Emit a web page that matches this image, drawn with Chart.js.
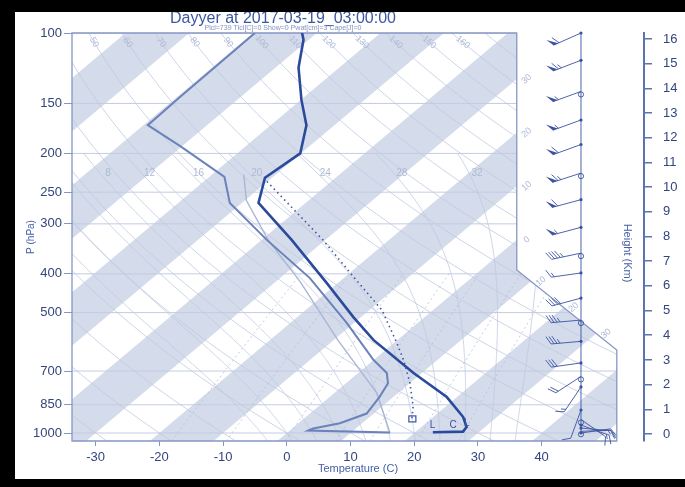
<!DOCTYPE html>
<html>
<head>
<meta charset="utf-8">
<script src="https://cdn.jsdelivr.net/npm/chart.js@4.4.1/dist/chart.umd.min.js"></script>
<style>
  html, body { margin: 0; padding: 0; background: #000; }
  body { width: 685px; height: 487px; position: relative; overflow: hidden; }
  #wrap { position: absolute; left: 15px; top: 12px; width: 670px; height: 467px; background: #fff; }
</style>
</head>
<body>
<div id="wrap"><canvas id="skewt" width="670" height="467"></canvas></div>
<script>
// skew-T geometry
const SKEW = 74.7;            // degC shift per decade of pressure
const P_REF = 1000;
const P_TOP = 100, P_BOT = 1047;
const X_MIN = -33.71, X_MAX = 56.07;
const H_MIN = -0.2835, H_MAX = 16.24;
const FRAME_X = [36.1, 51.8];   // right edge of the diagram, upper and lower part
const FRAME_P = [391, 620];     // where the cut corner starts / ends

// axis ticks
const P_TICKS = [100, 150, 200, 250, 300, 400, 500, 700, 850, 1000];
const T_TICKS = [-30, -20, -10, 0, 10, 20, 30, 40];
const H_TICKS = [0, 1, 2, 3, 4, 5, 6, 7, 8, 9, 10, 11, 12, 13, 14, 15, 16];

// sounding (hPa, degC)
const presT = [100, 104, 122, 147, 170, 200, 230, 266, 329, 422, 513, 585, 708, 813, 912, 966, 992, 996];
const tempC = [-72.3, -70.8, -66.4, -59.9, -54.4, -50.1, -51.1, -47.4, -35.3, -21.7, -11.2, -3.8, 8.7, 18.4, 24.7, 27.1, 27.4, 22.8];

const presD = [100, 145, 170, 192, 229, 266, 329, 410, 531, 657, 708, 751, 811, 894, 945, 974, 986, 997];
const dewC = [-79.7, -79.5, -79.3, -70.2, -57.6, -51.9, -39.2, -25.3, -11.1, 0.0, 4.5, 6.6, 7.8, 8.9, 6.5, 3.3, 2.9, 16.1];

const presW = [226, 262, 329, 419, 585, 795, 1000];
const wetC = [-55.0, -49.8, -39.0, -26.1, -9.4, 6.7, 16.2];

const presParcel = [235, 329, 415, 493, 596, 657, 750, 859, 922];
const parcelC = [-50.1, -30.4, -17.6, -8.0, 0.5, 4.7, 10.0, 14.9, 17.0];

// winds: pressure, direction (deg), speed (kt)
const windP = [100, 117, 140, 165, 190, 224, 261, 306, 355, 398, 460, 522, 590, 668, 722, 767, 876, 925, 955, 972, 990, 1000];
const windDir = [246, 249, 250, 250, 250, 252, 255, 255, 258, 262, 255, 265, 265, 262, 237, 214, 200, 125, 110, 95, 88, 82];
const windSpd = [60, 65, 55, 55, 60, 65, 60, 55, 45, 15, 40, 35, 35, 30, 20, 15, 10, 10, 15, 10, 15, 10];
const STAFF_X = 46.18;

// decoration values
const THETA = [];
for (let t = -40; t <= 180; t += 10) THETA.push(t);
const THETA_W = [-4, 0, 4, 8, 12, 16, 20, 24, 28, 32, 36];
const THETA_W_LABELS = [8, 12, 16, 20, 24, 28, 32];
const MIX_R = [1, 2, 4, 7, 10, 16, 24];
const ISO_LABELS = [-30, -20, -10, 0, 10, 20, 30];

// level markers near the ground
const markTxt = ['L', 'C', 'L'];
const markP = [955, 955, 944];
const markT = [21.4, 24.6, 26.4];

const TITLE = 'Dayyer at 2017-03-19_03:00:00';
const SUBTITLE = 'Plcl=739 Tlcl[C]=0 Show=0 Pwat[cm]=3 Cape[J]=0';

const C_BAND = '#d4dbea';
const C_GRID = '#c3cce1';
const C_LINE = '#c0c9df';
const C_FRAME = '#8797c4';
const C_TXT = '#33457f';
const C_DECO_TXT = '#aeb9d6';
const FONT = '"Liberation Sans", Arial, sans-serif';

const skewX = (t, p) => t + SKEW * Math.log10(P_REF / p);
const toPts = (ps, ts) => ps.map((p, i) => ({ x: skewX(ts[i], p), y: p }));

function pSteps(p0, p1, n) {
  const out = [];
  for (let i = 0; i <= n; i++) out.push(p0 * Math.pow(p1 / p0, i / n));
  return out;
}

function dryT(theta, p) {
  return (theta + 273.15) * Math.pow(p / 1000, 0.2857) - 273.15;
}

function moistLapse(p, T) {
  const tc = T - 273.15;
  const es = 6.112 * Math.exp(17.67 * tc / (tc + 243.5));
  const rs = 0.622 * es / (p - es);
  const Rd = 287.04, cp = 1005.7, L = 2.501e6;
  return (Rd * T + L * rs) / (p * (cp + L * L * rs * 0.622 / (Rd * T * T)));
}

function moistLine(thw, pEnd) {
  const up = [];
  let T = thw + 273.15, p = 1000;
  up.push([p, T - 273.15]);
  while (p > pEnd) {
    const dp = -4;
    const k1 = moistLapse(p, T);
    const k2 = moistLapse(p + dp, T + k1 * dp);
    T += 0.5 * (k1 + k2) * dp;
    p += dp;
    up.push([p, T - 273.15]);
  }
  T = thw + 273.15; p = 1000;
  const down = [];
  while (p < P_BOT) {
    const dp = 4;
    const k1 = moistLapse(p, T);
    T += k1 * dp;
    p += dp;
    down.push([p, T - 273.15]);
  }
  return down.reverse().concat(up);
}

function mixT(w, p) {
  const e = w * p / (622 + w);
  const a = Math.log(e / 6.112);
  return 243.5 * a / (17.67 - a);
}

function framePath(chart) {
  const ctx = chart.ctx, a = chart.chartArea, sx = chart.scales.x, sy = chart.scales.y;
  const xr1 = sx.getPixelForValue(FRAME_X[0]), xr2 = sx.getPixelForValue(FRAME_X[1]);
  ctx.beginPath();
  ctx.moveTo(a.left, a.top);
  ctx.lineTo(xr1, a.top);
  ctx.lineTo(xr1, sy.getPixelForValue(FRAME_P[0]));
  ctx.lineTo(xr2, sy.getPixelForValue(FRAME_P[1]));
  ctx.lineTo(xr2, a.bottom);
  ctx.lineTo(a.left, a.bottom);
  ctx.closePath();
}

function strokePoly(ctx, pts) {
  ctx.beginPath();
  pts.forEach((q, i) => (i ? ctx.lineTo(q[0], q[1]) : ctx.moveTo(q[0], q[1])));
  ctx.stroke();
}

function rotText(ctx, txt, x, y, ang) {
  ctx.save();
  ctx.translate(x, y);
  ctx.rotate(ang);
  ctx.fillText(txt, 0, 0);
  ctx.restore();
}

const background = {
  id: 'background',
  beforeDatasetsDraw(chart) {
    const ctx = chart.ctx, a = chart.chartArea, sx = chart.scales.x, sy = chart.scales.y;
    const px = (t, p) => sx.getPixelForValue(skewX(t, p));
    const py = p => sy.getPixelForValue(p);
    ctx.save();
    framePath(chart);
    ctx.clip();

    // shaded isotherm bands, 10 degC wide
    ctx.fillStyle = C_BAND;
    for (let t = -140; t <= 60; t += 20) {
      ctx.beginPath();
      ctx.moveTo(px(t, P_TOP), py(P_TOP));
      ctx.lineTo(px(t + 10, P_TOP), py(P_TOP));
      ctx.lineTo(px(t + 10, P_BOT), py(P_BOT));
      ctx.lineTo(px(t, P_BOT), py(P_BOT));
      ctx.closePath();
      ctx.fill();
    }

    // isobars
    ctx.strokeStyle = C_GRID;
    ctx.lineWidth = 1;
    P_TICKS.forEach(p => strokePoly(ctx, [[a.left, py(p)], [a.right, py(p)]]));

    // dry adiabats
    ctx.strokeStyle = C_LINE;
    ctx.lineWidth = 0.8;
    const ps = pSteps(P_BOT, P_TOP, 60);
    THETA.forEach(th => strokePoly(ctx, ps.map(p => [px(dryT(th, p), p), py(p)])));

    // moist adiabats
    THETA_W.forEach(tw => strokePoly(ctx, moistLine(tw, 200).map(q => [px(q[1], q[0]), py(q[0])])));

    // mixing ratio lines
    ctx.setLineDash([2, 3]);
    ctx.strokeStyle = '#b4bfda';
    const pm = pSteps(P_BOT, 400, 20);
    MIX_R.forEach(w => strokePoly(ctx, pm.map(p => [px(mixT(w, p), p), py(p)])));
    ctx.setLineDash([]);
    ctx.restore();

    // frame
    ctx.save();
    ctx.strokeStyle = C_FRAME;
    ctx.lineWidth = 1.3;
    framePath(chart);
    ctx.stroke();

    // labels of the background lines
    ctx.fillStyle = C_DECO_TXT;
    ctx.font = '9px ' + FONT;
    ctx.textAlign = 'center';
    ctx.textBaseline = 'middle';
    THETA.forEach(th => {
      if (th >= 50 && th <= 160) {
        const p = 105.5;
        const x0 = px(dryT(th, p), p), y0 = py(p);
        const x1 = px(dryT(th, p * 1.05), p * 1.05), y1 = py(p * 1.05);
        rotText(ctx, String(th), x0, y0, Math.atan2(y1 - y0, x1 - x0));
      }
      if (th >= -30 && th <= 40) {
        // where the adiabat meets the left edge
        let lo = P_TOP, hi = P_BOT;
        for (let k = 0; k < 40; k++) {
          const mid = Math.sqrt(lo * hi);
          if (skewX(dryT(th, mid), mid) < X_MIN) hi = mid; else lo = mid;
        }
        const p = Math.sqrt(lo * hi);
        const y0 = py(p);
        if (y0 > a.top + 8 && y0 < a.bottom - 8) {
          rotText(ctx, String(Math.abs(th)), a.left + 9, y0 + 6, 0.6);
        }
      }
    });
    // isotherm labels along the right edge
    const xr1 = sx.getPixelForValue(FRAME_X[0]), xr2 = sx.getPixelForValue(FRAME_X[1]);
    const yc1 = py(FRAME_P[0]), yc2 = py(FRAME_P[1]);
    ISO_LABELS.forEach(t => {
      let xl, yl;
      const yAtEdge = py(P_REF / Math.pow(10, (FRAME_X[0] - t) / SKEW));
      if (yAtEdge <= yc1) { xl = xr1 + 10; yl = yAtEdge; }
      else {
        // intersection with the cut edge
        let lo = 0, hi = 1;
        for (let k = 0; k < 40; k++) {
          const m = (lo + hi) / 2;
          const xx = xr1 + (xr2 - xr1) * m, yy = yc1 + (yc2 - yc1) * m;
          if (px(t, sy.getValueForPixel(yy)) > xx) lo = m; else hi = m;
        }
        xl = xr1 + (xr2 - xr1) * lo + 10;
        yl = yc1 + (yc2 - yc1) * lo;
      }
      rotText(ctx, String(Math.abs(t)), xl, yl, -0.7);
    });
    // moist adiabat labels
    ctx.font = '10px ' + FONT;
    THETA_W_LABELS.forEach(tw => {
      const line = moistLine(tw, 200);
      let best = line[0];
      line.forEach(q => { if (Math.abs(q[0] - 224) < Math.abs(best[0] - 224)) best = q; });
      ctx.fillText(String(tw), px(best[1], best[0]) + 8, py(224));
    });
    ctx.restore();
  }
};

function drawBarb(ctx, x0, y0, dir, spd) {
  const r = dir * Math.PI / 180;
  const ux = Math.sin(r), uy = -Math.cos(r);
  const nx = -uy, ny = ux;
  const L = 30;
  const xt = x0 + ux * L, yt = y0 + uy * L;
  ctx.beginPath();
  ctx.moveTo(x0, y0);
  ctx.lineTo(xt, yt);
  ctx.stroke();
  let s = Math.round(spd / 5) * 5, pos = 0;
  const fx = (len) => [(nx * 0.85 + ux * 0.5) * len, (ny * 0.85 + uy * 0.5) * len];
  while (s >= 50) {
    const bx = xt - ux * pos, by = yt - uy * pos;
    const f = fx(9);
    ctx.beginPath();
    ctx.moveTo(bx, by);
    ctx.lineTo(bx + f[0], by + f[1]);
    ctx.lineTo(bx - ux * 5, by - uy * 5);
    ctx.closePath();
    ctx.fill();
    pos += 6; s -= 50;
  }
  while (s >= 10) {
    const bx = xt - ux * pos, by = yt - uy * pos;
    const f = fx(9);
    strokePoly(ctx, [[bx, by], [bx + f[0], by + f[1]]]);
    pos += 3; s -= 10;
  }
  if (s >= 5) {
    if (pos === 0) pos = 3;
    const bx = xt - ux * pos, by = yt - uy * pos;
    const f = fx(5);
    strokePoly(ctx, [[bx, by], [bx + f[0], by + f[1]]]);
  }
}

const overlay = {
  id: 'overlay',
  afterDatasetsDraw(chart) {
    const ctx = chart.ctx, sx = chart.scales.x, sy = chart.scales.y;
    ctx.save();
    // wind staff and barbs
    const xs = sx.getPixelForValue(STAFF_X);
    ctx.strokeStyle = '#3a52a0';
    ctx.fillStyle = '#3a52a0';
    ctx.lineWidth = 0.9;
    strokePoly(ctx, [[xs, sy.getPixelForValue(P_TOP)], [xs, sy.getPixelForValue(1000)]]);
    windP.forEach((p, i) => {
      const y0 = sy.getPixelForValue(p);
      drawBarb(ctx, xs, y0, windDir[i], windSpd[i]);
      ctx.beginPath();
      if (i % 3 === 2) {
        ctx.arc(xs, y0 + 3, 2.6, 0, Math.PI * 2);
        ctx.stroke();
      } else {
        ctx.arc(xs, y0, 1.6, 0, Math.PI * 2);
        ctx.fill();
      }
    });

    // markers near the ground
    ctx.font = '10px ' + FONT;
    ctx.textAlign = 'center';
    ctx.textBaseline = 'middle';
    markTxt.forEach((t, i) => {
      ctx.fillText(t, sx.getPixelForValue(skewX(markT[i], markP[i])), sy.getPixelForValue(markP[i]));
    });
    const lx = sx.getPixelForValue(skewX(parcelC[parcelC.length - 1], presParcel[presParcel.length - 1]));
    const ly = sy.getPixelForValue(presParcel[presParcel.length - 1]);
    ctx.lineWidth = 1.2;
    ctx.strokeRect(lx - 3, ly - 3, 7, 6);

    // titles
    ctx.fillStyle = '#3d58a3';
    ctx.font = '16px ' + FONT;
    ctx.textBaseline = 'alphabetic';
    ctx.fillText(TITLE, 268, 10.5);
    ctx.fillStyle = '#8393c4';
    ctx.font = '7px ' + FONT;
    ctx.fillText(SUBTITLE, 268, 18);

    ctx.fillStyle = '#4660a8';
    ctx.font = '11px ' + FONT;
    ctx.textBaseline = 'middle';
    rotText(ctx, 'Height (Km)', 612, 241, Math.PI / 2);
    ctx.restore();
  }
};

new Chart(document.getElementById('skewt'), {
  type: 'scatter',
  data: {
    datasets: [
      {
        label: 'Temperature',
        data: toPts(presT, tempC),
        showLine: true, borderColor: '#2b4a9c', borderWidth: 2.6, pointRadius: 0
      },
      {
        label: 'Dew point',
        data: toPts(presD, dewC),
        showLine: true, borderColor: '#6b82ba', borderWidth: 2, pointRadius: 0
      },
      {
        label: 'Wet bulb',
        data: toPts(presW, wetC),
        showLine: true, borderColor: '#a9b6d5', borderWidth: 1.4, pointRadius: 0
      },
      {
        label: 'Parcel',
        data: toPts(presParcel, parcelC),
        showLine: true, borderColor: '#3d56a0', borderWidth: 1.6, borderDash: [1.5, 3.5], pointRadius: 0
      }
    ]
  },
  options: {
    responsive: false,
    devicePixelRatio: 1,
    animation: false,
    layout: { padding: { top: 21, left: 0, right: 0, bottom: 0 } },
    plugins: { legend: { display: false }, tooltip: { enabled: false } },
    scales: {
      x: {
        type: 'linear', min: X_MIN, max: X_MAX,
        afterBuildTicks: s => { s.ticks = T_TICKS.map(v => ({ value: v })); },
        afterFit: s => { s.height = 38; },
        border: { display: false },
        grid: { drawOnChartArea: false, drawTicks: true, tickLength: 5, color: '#8797c4' },
        ticks: { color: C_TXT, font: { family: FONT, size: 13 }, padding: 4, callback: v => String(v) },
        title: { display: true, text: 'Temperature (C)', color: '#4660a8', font: { family: FONT, size: 11 }, padding: { bottom: 3, top: 0 } }
      },
      y: {
        type: 'logarithmic', reverse: true, min: P_TOP, max: P_BOT,
        afterBuildTicks: s => { s.ticks = P_TICKS.map(v => ({ value: v })); },
        afterFit: s => { s.width = 57; },
        border: { display: false },
        grid: { drawOnChartArea: false, drawTicks: true, tickLength: 8, color: '#8797c4' },
        ticks: { color: C_TXT, font: { family: FONT, size: 13 }, padding: 2, callback: v => String(v) },
        title: { display: true, text: 'P (hPa)', color: '#4660a8', font: { family: FONT, size: 10 }, padding: { top: 10, bottom: 0 } }
      },
      y2: {
        type: 'linear', position: 'right', min: H_MIN, max: H_MAX,
        afterBuildTicks: s => { s.ticks = H_TICKS.map(v => ({ value: v })); },
        afterFit: s => { s.width = 41; },
        border: { display: true, color: '#5d72ae', width: 2 },
        grid: { drawOnChartArea: false, drawTicks: true, tickLength: 8, color: '#5d72ae', lineWidth: 1.5 },
        ticks: { color: C_TXT, font: { family: FONT, size: 13 }, padding: 11, callback: v => String(v) }
      }
    }
  },
  plugins: [background, overlay]
});
</script>
</body>
</html>
